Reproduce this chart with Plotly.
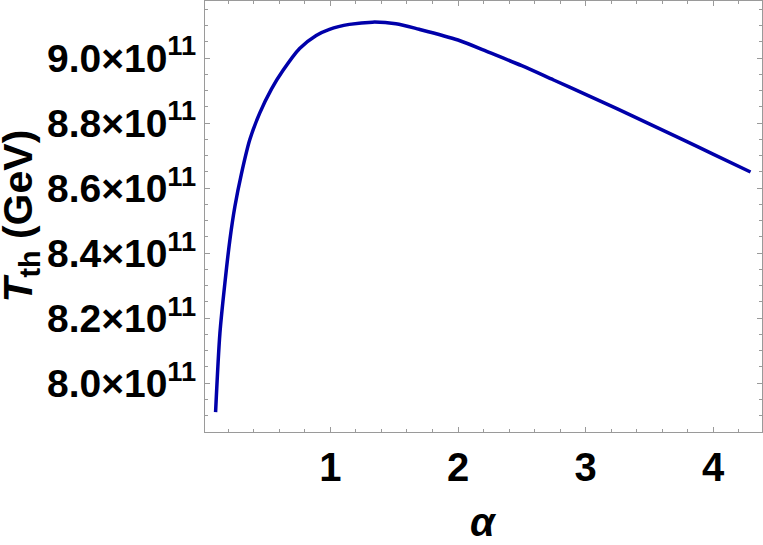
import plotly.graph_objects as go

# curve (alpha, T_th in units of 1e11 GeV)
alpha = [0.099, 0.133, 0.172, 0.211, 0.25, 0.302, 0.367, 0.445, 0.537, 0.627,
         0.758, 0.888, 0.992, 1.148, 1.33, 1.513, 1.695, 2.0, 2.25, 2.5,
         2.75, 3.0, 3.25, 3.5, 3.75, 4.0, 4.294]
t_th = [7.911, 8.154, 8.308, 8.441, 8.543, 8.645, 8.749, 8.831, 8.905, 8.962,
        9.030, 9.070, 9.089, 9.104, 9.111, 9.106, 9.089, 9.056, 9.017, 8.977,
        8.933, 8.889, 8.844, 8.798, 8.752, 8.705, 8.650]
t_th = [v * 1e11 for v in t_th]

x_ticks = [1, 2, 3, 4]
y_ticks = [8.0, 8.2, 8.4, 8.6, 8.8, 9.0]
y_labels = ["%.1f\u00d710<sup>11</sup>" % v for v in y_ticks]

font_family = "Liberation Sans, Arial, sans-serif"
frame = "#9a9a9a"

fig = go.Figure(go.Scatter(
    x=alpha, y=t_th, mode="lines",
    line=dict(color="#0000aa", width=3.5, shape="spline", smoothing=0.8),
))

fig.update_layout(
    width=763, height=545,
    margin=dict(l=205, r=1, t=1, b=113),
    plot_bgcolor="white", paper_bgcolor="white",
    showlegend=False,
    font=dict(family=font_family, color="black"),
)

fig.update_xaxes(
    range=[0.016, 4.384],
    tickvals=x_ticks, ticktext=[str(v) for v in x_ticks],
    tickfont=dict(size=40, family=font_family, weight="bold"),
    showgrid=False, zeroline=False, automargin=False,
    showline=True, linecolor=frame, linewidth=1, mirror="allticks",
    ticks="inside", ticklen=5, tickcolor=frame,
    minor=dict(ticks="inside", dtick=0.2, tick0=0, ticklen=3, tickcolor=frame),
)

fig.update_yaxes(
    range=[7.85e11, 9.176e11],
    tickvals=[v * 1e11 for v in y_ticks], ticktext=y_labels,
    tickfont=dict(size=39, family=font_family, weight="bold"),
    showgrid=False, zeroline=False, automargin=False,
    showline=True, linecolor=frame, linewidth=1, mirror="allticks",
    ticks="inside", ticklen=5, tickcolor=frame,
    minor=dict(ticks="inside", dtick=0.05e11, tick0=0, ticklen=3, tickcolor=frame),
)

# axis titles
fig.add_annotation(
    text="<i>\u03b1</i>", xref="paper", yref="paper", x=0.5, y=-0.209,
    xanchor="center", yanchor="middle", showarrow=False,
    font=dict(size=40, family=font_family, weight="bold"),
)
fig.add_annotation(
    text="<i>T</i><sub>th</sub> (GeV)", xref="paper", yref="paper", x=-0.332, y=0.5,
    xanchor="center", yanchor="middle", textangle=-90, showarrow=False,
    font=dict(size=41, family=font_family, weight="bold"),
)

fig.write_html("out.html", config={"displayModeBar": False},
               post_script="document.body.style.margin='0px';")
